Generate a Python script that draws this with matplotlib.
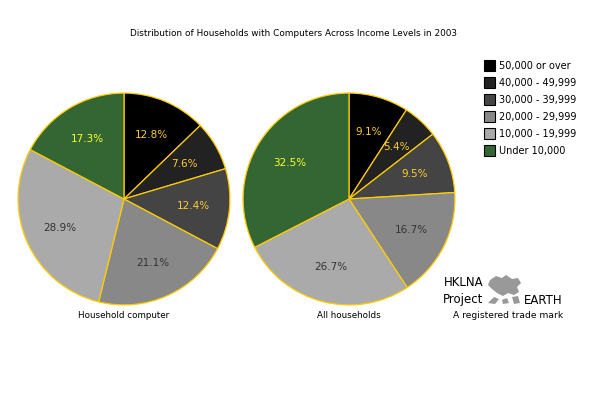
import matplotlib
matplotlib.use('Agg')
import matplotlib.pyplot as plt
from matplotlib.patches import Rectangle, Polygon

# income groups and shares (%)
categories = ['50,000 or over', '40,000 - 49,999', '30,000 - 39,999',
              '20,000 - 29,999', '10,000 - 19,999', 'Under 10,000']
household_computer = [12.8, 7.6, 12.4, 21.1, 28.9, 17.3]
all_households = [9.1, 5.4, 9.5, 16.7, 26.7, 32.5]
pie_titles = ['Household computer', 'All households']

colors = ['#000000', '#222222', '#444444', '#888888', '#aaaaaa', '#336633']
label_colors = ['#ffcc33', '#ffcc33', '#ffcc33', '#333333', '#333333', '#ffff33']
edge = '#ffcc00'

W, H = 599, 398
fig = plt.figure(figsize=(W / 100, H / 100), dpi=100)
fig.patch.set_facecolor('white')

def px(x, y):
    # pixel coords (from top-left) -> figure fraction
    return x / W, 1 - y / H

R = 107
centers = [(124, 199), (349, 199)]

for (cx, cy), vals, name in zip(centers, [household_computer, all_households], pie_titles):
    ax = fig.add_axes([(cx - R) / W, (H - cy - R) / H, 2 * R / W, 2 * R / H])
    wedges, texts = ax.pie(vals, colors=colors, startangle=90, counterclock=False,
                           labels=['%.1f%%' % v for v in vals], labeldistance=0.66,
                           wedgeprops=dict(edgecolor=edge, linewidth=0.9),
                           textprops=dict(fontsize=7.5))
    for t, c in zip(texts, label_colors):
        t.set_color(c)
        t.set_ha('center')
        t.set_va('center')
    ax.set_xlim(-1.01, 1.01)
    ax.set_ylim(-1.01, 1.01)
    ax.set_aspect('auto')
    ax.axis('off')
    x, y = px(cx, 316)
    fig.text(x, y, name, ha='center', va='center', fontsize=6.3)

x, y = px(293, 33)
fig.text(x, y, 'Distribution of Households with Computers Across Income Levels in 2003',
         ha='center', va='center', fontsize=6.4)

# legend
for i, (cat, col) in enumerate(zip(categories, colors)):
    ry = 65.7 + i * 17
    x0, y0 = px(484, ry + 5.5)
    fig.patches.append(Rectangle((x0, y0), 11 / W, 11 / H, transform=fig.transFigure,
                                 facecolor=col, edgecolor='black', linewidth=0.8))
    tx, ty = px(499, ry)
    fig.text(tx, ty, cat, ha='left', va='center', fontsize=7)

# logo
for s, xx, yy in [('HKLNA', 444, 283), ('Project', 443, 300), ('EARTH', 524, 300)]:
    tx, ty = px(xx, yy)
    fig.text(tx, ty, s, ha='left', va='center', fontsize=8.5)
tx, ty = px(453, 316)
fig.text(tx, ty, 'A registered trade mark', ha='left', va='center', fontsize=6.6)

map_shape = [(490, 280), (496, 276), (502, 278), (506, 275), (512, 279), (518, 278),
             (521, 283), (517, 287), (519, 292), (514, 295), (508, 293), (503, 296),
             (497, 293), (492, 289), (488, 285)]
fig.patches.append(Polygon([px(a, b) for a, b in map_shape], closed=True,
                           transform=fig.transFigure, facecolor='#999999', edgecolor='none'))
bits = [[(488, 303), (494, 297), (499, 299), (495, 304)],
        [(502, 300), (507, 298), (509, 303), (503, 304)],
        [(512, 297), (518, 296), (520, 303), (514, 304)]]
for b in bits:
    fig.patches.append(Polygon([px(a, c) for a, c in b], closed=True,
                               transform=fig.transFigure, facecolor='#999999', edgecolor='none'))

fig.savefig('out.png', dpi=100)
